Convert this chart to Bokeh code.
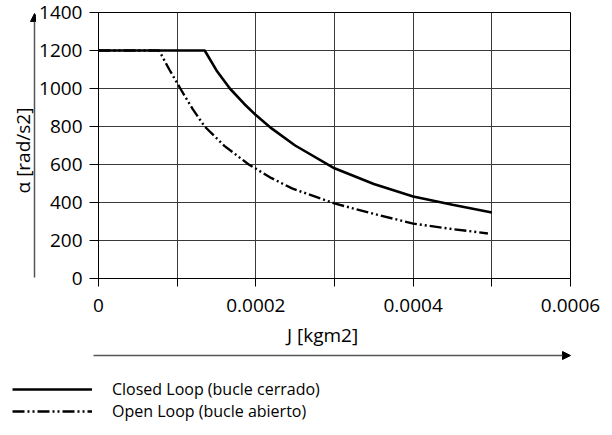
import math
from bokeh.plotting import figure
from bokeh.layouts import column, row
from bokeh.embed import file_html
from bokeh.resources import INLINE
from bokeh.models import Range1d, FixedTicker, Arrow, NormalHead, Legend, LegendItem, Label

# ---- data ----
closed_j = [0, 0.000135, 0.00015, 0.000167, 0.000185, 0.0002, 0.00022, 0.00025,
            0.0003, 0.00035, 0.0004, 0.00045, 0.0005]
closed_a = [1200, 1200, 1095, 1000, 920, 860, 790, 700, 580, 497, 432, 388, 347]

open_j = [0, 0.000077, 0.00009, 0.000104, 0.00012, 0.000135, 0.00016, 0.000191,
          0.00022, 0.000246, 0.0003, 0.00035, 0.0004, 0.00045, 0.000495]
open_a = [1200, 1200, 1100, 1000, 890, 800, 698, 600, 528, 474, 395, 340, 289, 260, 237]

x_ticks = [0, 0.0002, 0.0004, 0.0006]
x_labels = ["0", "0.0002", "0.0004", "0.0006"]
x_minor = [0.0001, 0.0003, 0.0005]
y_ticks = [0, 200, 400, 600, 800, 1000, 1200, 1400]

x_title = "J [kgm2]"
y_title = "α [rad/s2]"
series_names = ["Closed Loop (bucle cerrado)", "Open Loop (bucle abierto)"]

FONT = "Open Sans"
TICK_FS = "19px"
CLOSED_STYLE = dict(line_color="black", line_width=2.6)
OPEN_STYLE = dict(line_color="black", line_width=2.4, line_dash="12 3 2 3 2 3")
ARROW_STYLE = dict(line_color="#555555", line_width=1.5)
HEAD = dict(size=8, fill_color="black", line_color="black")

# layout geometry (page pixels)
LEFT_W = 36                     # strip holding the y title and the upward arrow
TOP_B, FRAME_H, BOT_B = 12, 266, 41
H_TOP = TOP_B + FRAME_H + BOT_B
TOTAL_W = 604
H_BOT = 427 - H_TOP

# ---------------- main chart ----------------
p = figure(width=TOTAL_W - LEFT_W, height=H_TOP, output_backend="svg",
           toolbar_location=None,
           x_range=Range1d(0, 0.0006), y_range=Range1d(0, 1400),
           min_border_left=60, min_border_right=34, min_border_top=TOP_B,
           min_border_bottom=BOT_B)
p.background_fill_color = "white"
p.border_fill_color = "white"
p.outline_line_color = "black"
p.outline_line_width = 1

xt = FixedTicker(ticks=x_ticks, minor_ticks=x_minor)
yt = FixedTicker(ticks=y_ticks, minor_ticks=[])
p.xaxis.ticker = xt
p.yaxis.ticker = yt
p.xgrid.ticker = xt
p.ygrid.ticker = yt
p.xaxis.major_label_overrides = {t: l for t, l in zip(x_ticks, x_labels)}

for g in (p.xgrid, p.ygrid):
    g.grid_line_color = "#3a3a3a"
    g.grid_line_width = 1
p.xgrid.minor_grid_line_color = "#3a3a3a"
p.xgrid.minor_grid_line_width = 1

for ax in (p.xaxis, p.yaxis):
    ax.axis_line_color = "black"
    ax.major_tick_line_color = "black"
    ax.major_tick_in = 0
    ax.major_label_text_font = FONT
    ax.major_label_text_font_size = TICK_FS
    ax.major_label_text_color = "black"

p.xaxis.major_tick_out = 8
p.xaxis.minor_tick_out = 8
p.xaxis.minor_tick_in = 0
p.xaxis.minor_tick_line_color = "black"
p.xaxis.major_label_standoff = 12

p.yaxis.major_tick_out = 9
p.yaxis.minor_tick_line_color = None
p.yaxis.major_label_standoff = 7

r_closed = p.line(closed_j, closed_a, **CLOSED_STYLE)
r_open = p.line(open_j, open_a, **OPEN_STYLE)

# ---------------- left strip: y title + upward arrow (page-pixel coords) ----------------
pa = figure(width=LEFT_W, height=H_TOP, output_backend="svg", toolbar_location=None,
            x_range=Range1d(0, LEFT_W), y_range=Range1d(TOP_B + FRAME_H, TOP_B),
            x_axis_type=None, y_axis_type=None,
            min_border_left=0, min_border_right=0,
            min_border_top=TOP_B, min_border_bottom=BOT_B)
pa.outline_line_color = None
pa.add_layout(Label(x=22, y=150, text=y_title, angle=math.pi / 2,
                    text_align="center", text_baseline="middle",
                    text_font=FONT, text_font_size=TICK_FS, text_color="black"))
pa.add_layout(Arrow(end=NormalHead(**HEAD),
                    x_start=34, y_start=277, x_end=34, y_end=13, **ARROW_STYLE))

# ---------------- bottom strip: x title, rightward arrow, legend ----------------
pc = figure(width=TOTAL_W, height=H_BOT, output_backend="svg", toolbar_location=None,
            x_range=Range1d(0, TOTAL_W), y_range=Range1d(H_TOP + H_BOT, H_TOP),
            x_axis_type=None, y_axis_type=None, min_border=0)
pc.outline_line_color = None
pc.add_layout(Label(x=322, y=334, text=x_title, text_align="center",
                    text_baseline="middle", text_font=FONT,
                    text_font_size=TICK_FS, text_color="black"))
pc.add_layout(Arrow(end=NormalHead(**HEAD),
                    x_start=93, y_start=355, x_end=570, y_end=355, **ARROW_STYLE))
nan = float("nan")
lc = pc.line(x=[nan], y=[nan], **CLOSED_STYLE)   # legend proxies (no visible data)
lo = pc.line(x=[nan], y=[nan], **OPEN_STYLE)

LEGEND_STYLE = dict(orientation="vertical", glyph_width=80, glyph_height=22,
                    label_height=17, label_standoff=20, spacing=0, padding=0,
                    margin=0, border_line_color=None, background_fill_alpha=0,
                    label_text_font=FONT, label_text_font_size="16px",
                    label_text_color="black")
for name, rend, loc_y in ((series_names[0], lc, 27), (series_names[1], lo, 5)):
    pc.add_layout(Legend(items=[LegendItem(label=name, renderers=[rend])],
                         location=(12, loc_y), **LEGEND_STYLE), "center")

layout = column(row(pa, p, spacing=0), pc, spacing=0)
open("out.html", "w").write(file_html(layout, INLINE))
